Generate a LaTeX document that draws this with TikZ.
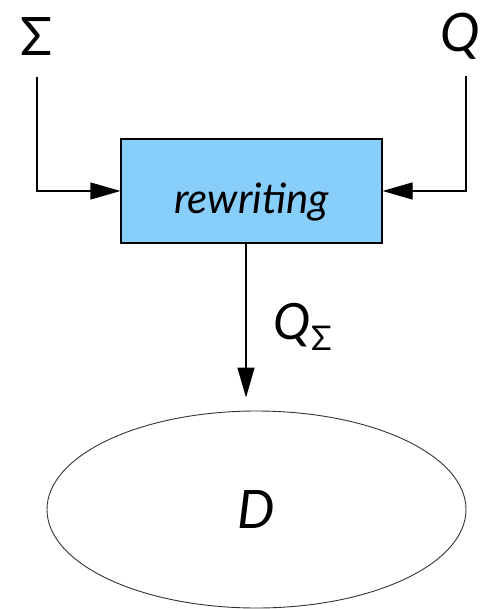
\documentclass[tikz,border=0pt]{standalone}
\usepackage{fontspec}
\setmainfont{Lato}
\usetikzlibrary{shapes.geometric,arrows.meta}
\definecolor{boxblue}{RGB}{135,206,250}
\tikzset{
  sym/.style={font=\fontsize{53}{60}\selectfont, inner sep=0pt},
  procbox/.style={draw, line width=1.2pt, fill=boxblue, minimum width=261pt,
    minimum height=104pt, inner sep=0pt, font=\fontsize{42}{48}\selectfont\itshape},
  store/.style={draw=black!80, line width=0.9pt, ellipse, minimum width=419pt,
    minimum height=197pt, inner sep=0pt, font=\fontsize{53}{60}\selectfont\itshape},
  flow/.style={line width=1.2pt, -{Triangle[length=30pt,width=17pt]}},
}
\begin{document}
\begin{tikzpicture}[x=1pt,y=-1pt]
  \useasboundingbox (0,0) rectangle (481,609);
  % inputs
  \node[sym] (sig) at (37,37) {Σ};
  \node[sym, anchor=east] (q) at (480.5,36) {\itshape Q};
  % rewriting step
  \node[procbox] (rw) at (251.5,191) {\raisebox{-11pt}[\height][\depth]{rewriting}};
  % target database
  \node[store] (db) at (256.5,509.5) {D};
  % connectors
  \coordinate (qline) at (466,36);
  \draw[flow, shorten <=40pt] (qline) |- (rw.east);
  \draw[flow, shorten <=40pt] (sig.center) |- (rw.west);
  \coordinate (tap) at (246,0);
  \draw[flow, shorten >=13pt] (rw.south -| tap) -- (db.north -| tap)
    node[midway, right=24pt, font=\fontsize{50}{56}\selectfont]
    {\itshape Q\raisebox{-0.22em}{\upshape\fontsize{34}{36}\selectfont Σ}};
\end{tikzpicture}
\end{document}
